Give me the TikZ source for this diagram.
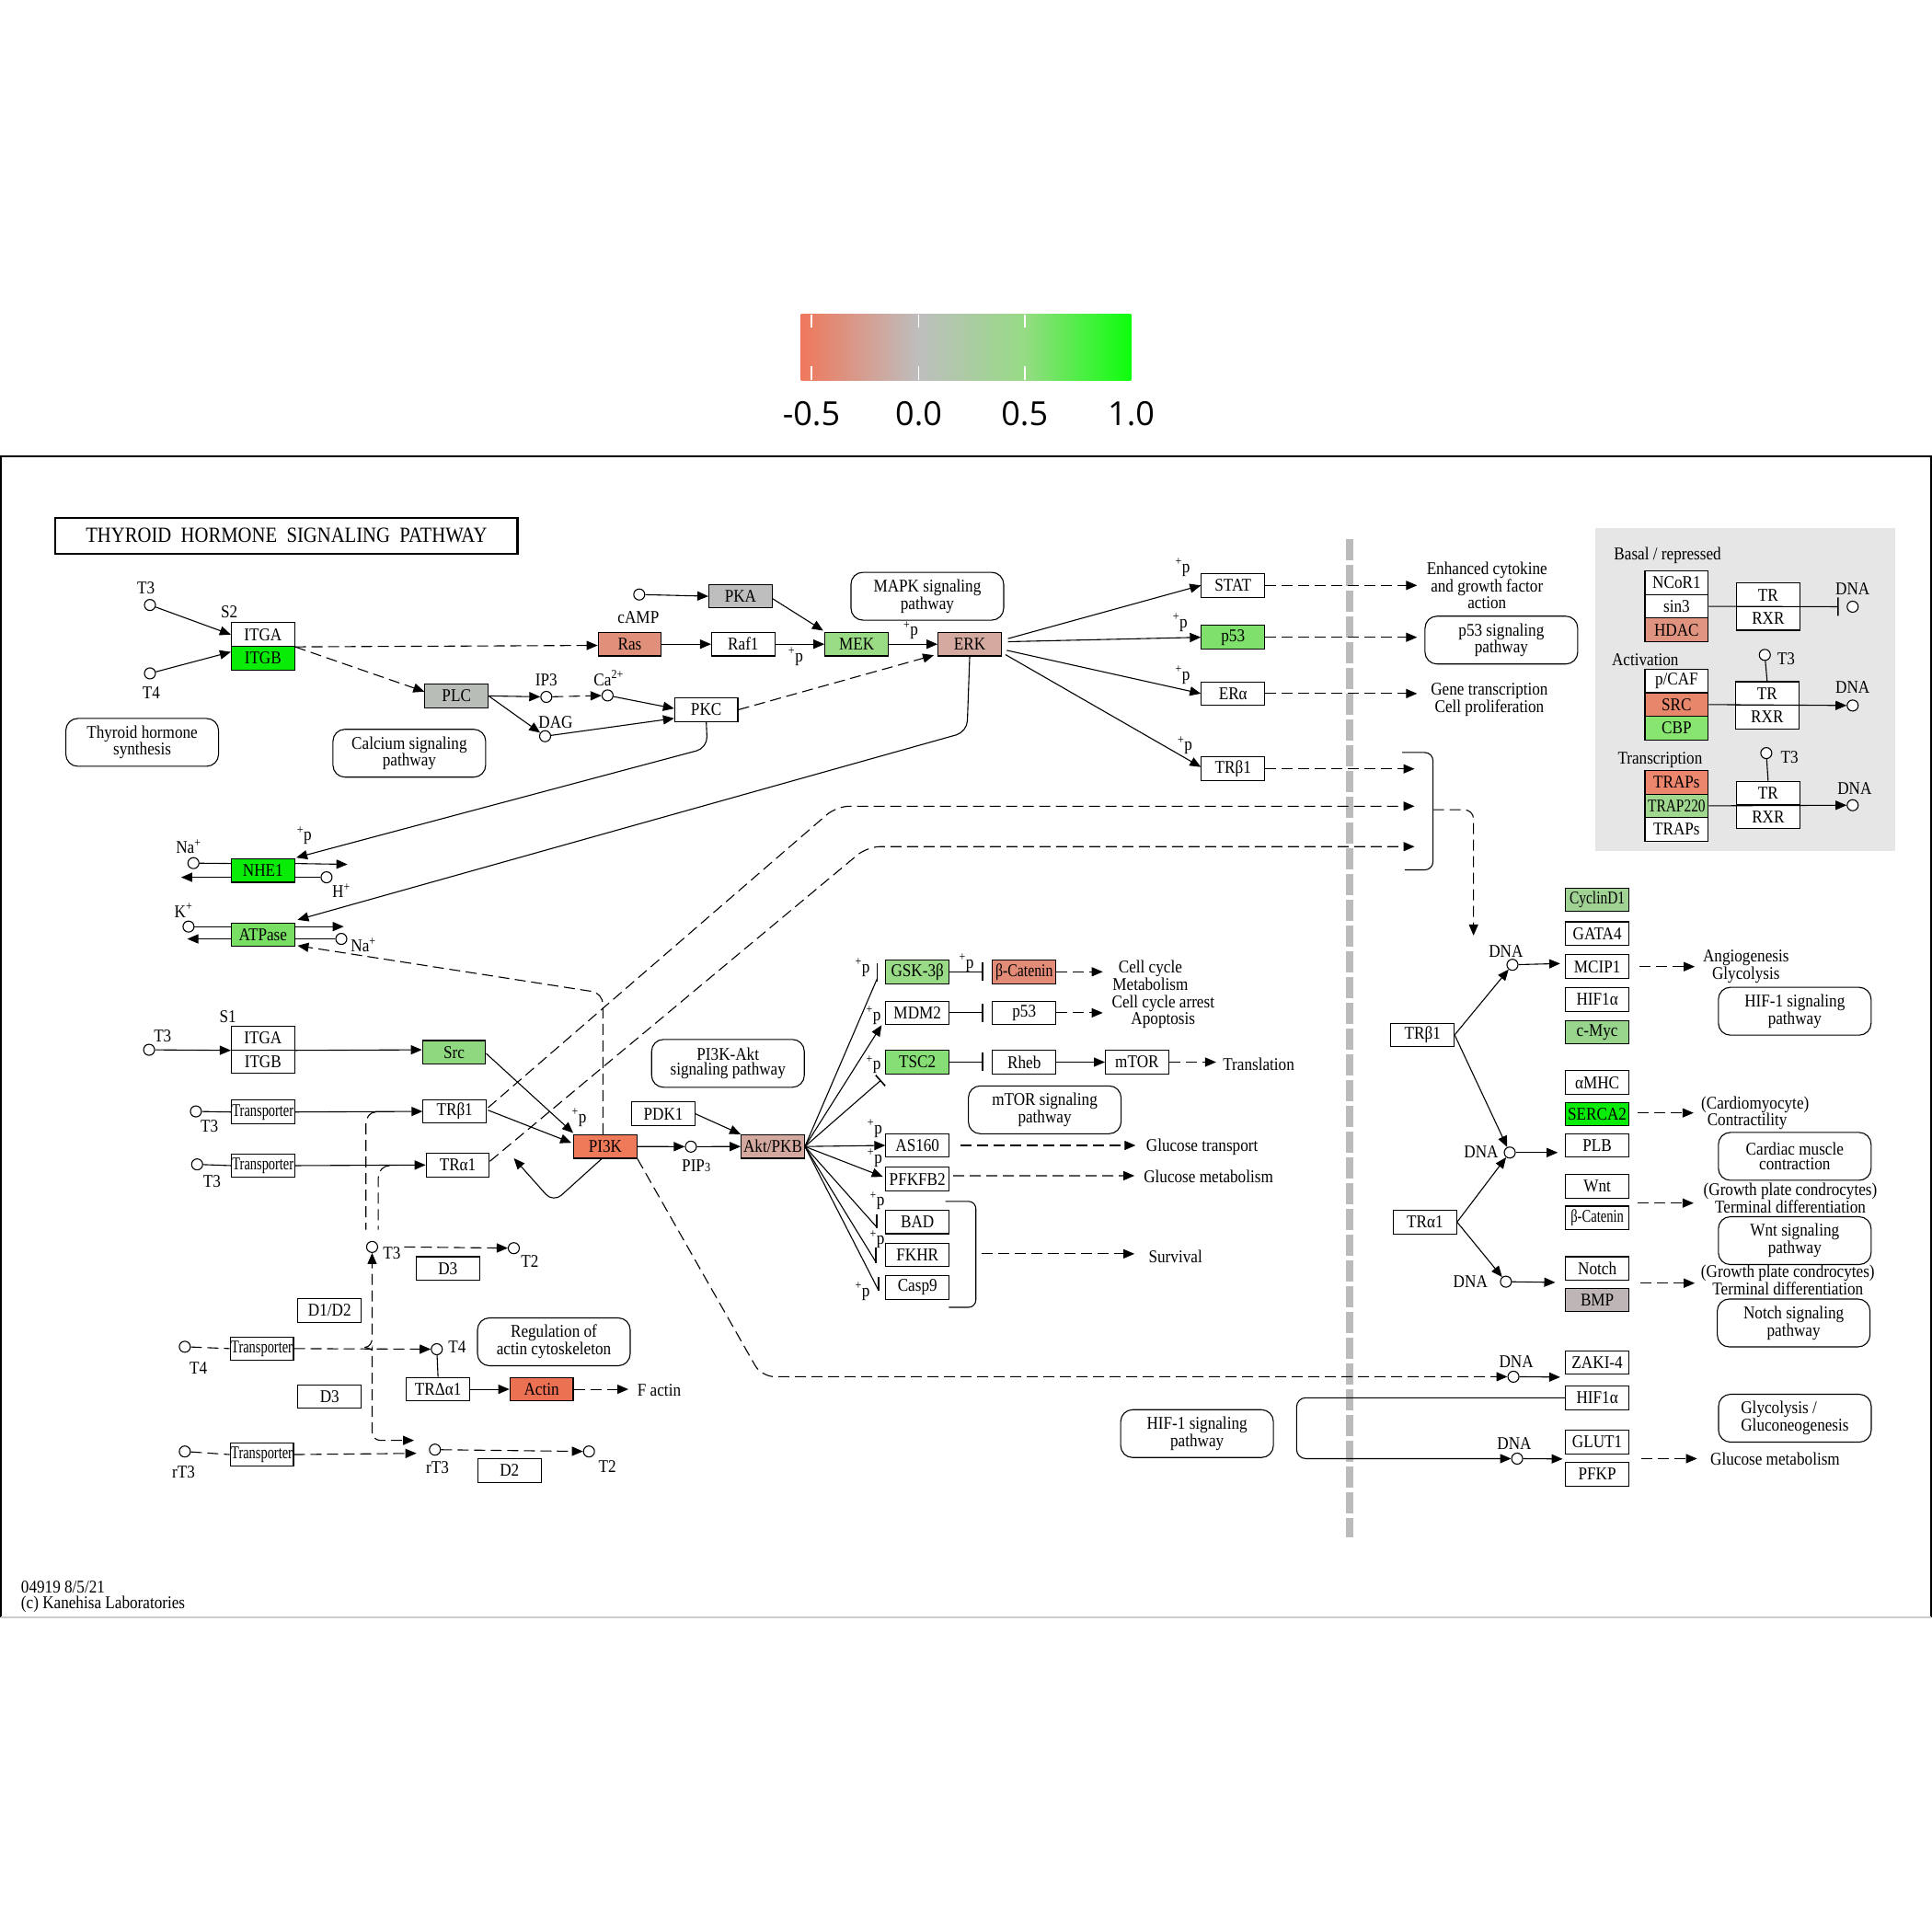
\documentclass[tikz,border=0pt]{standalone}
\usepackage{fontspec}
\usepackage{graphicx}
\setmainfont{Liberation Serif}[FakeStretch=0.88]
\newfontfamily\legfont{Open Sans}
\usetikzlibrary{arrows.meta,calc}
\newcommand\nf{\fontsize{19.5}{16.5}\selectfont}
\newcommand\pp{\textsuperscript{+}p}
\newcommand\sq[2]{\scalebox{#1}[1]{#2}}
\definecolor{cBG}{RGB}{230,230,230}
\definecolor{cVL}{RGB}{187,187,187}
\definecolor{cBright}{RGB}{8,236,8}
\definecolor{cMEK}{RGB}{154,219,134}
\definecolor{cP53}{RGB}{128,224,108}
\definecolor{cCBP}{RGB}{136,230,112}
\definecolor{cATP}{RGB}{120,222,100}
\definecolor{cSrc}{RGB}{144,216,128}
\definecolor{cGSK}{RGB}{152,218,134}
\definecolor{cTSC}{RGB}{136,222,118}
\definecolor{cTRAP}{RGB}{160,216,144}
\definecolor{cCyc}{RGB}{160,210,148}
\definecolor{cMyc}{RGB}{152,212,140}
\definecolor{cRas}{RGB}{224,144,122}
\definecolor{cHDAC}{RGB}{224,148,128}
\definecolor{cSRC}{RGB}{232,134,108}
\definecolor{cTRAPs}{RGB}{236,134,108}
\definecolor{cBcat}{RGB}{226,140,120}
\definecolor{cPI3K}{RGB}{238,122,90}
\definecolor{cActin}{RGB}{236,112,82}
\definecolor{cERK}{RGB}{212,169,160}
\definecolor{cAkt}{RGB}{210,168,159}
\definecolor{cPKA}{RGB}{190,190,190}
\definecolor{cPLC}{RGB}{184,189,184}
\definecolor{cBMP}{RGB}{190,182,182}
\definecolor{cL}{RGB}{239,120,92}
\definecolor{cZ}{RGB}{190,190,190}
\definecolor{cM}{RGB}{150,219,132}
\definecolor{cR}{RGB}{12,255,12}
\begin{document}
\begin{tikzpicture}[x=1.33929pt,y=-1.33929pt,
 gene/.style={draw,line width=1.1pt,fill=white,minimum width=68.7pt,minimum height=25.6pt,inner sep=0pt,font=\nf},
 cpd/.style={circle,draw,line width=1.1pt,fill=white,minimum size=12pt,inner sep=0pt},
 pw/.style={draw,rounded corners=13pt,line width=1.1pt,minimum width=166pt,minimum height=52pt,align=center,font=\nf,inner sep=0pt},
 lbl/.style={font=\nf,inner sep=0pt,align=center},
 ln/.style={line width=1.1pt},
 arr/.style={line width=1.1pt,-{Triangle[length=12pt,width=10pt]}},
 inh/.style={line width=1.1pt,-{Bar[width=20pt,line width=1.6pt]}},
 barl/.style={line width=1.6pt},
 dsh/.style={dash pattern=on 12pt off 6pt},
]
\useasboundingbox (0,0) rectangle (1568,1568);
% ---------- legend ----------
\shade[left color=cL,right color=cZ] (650,255.2) rectangle (745.6,308.7);
\shade[left color=cZ,right color=cM] (745.5,255.2) rectangle (832,308.7);
\shade[left color=cM,right color=cR] (831.9,255.2) rectangle (918,308.7);
\foreach \t in {658.5,745.6,832}{
  \draw[white,line width=1.6pt] (\t,255.2) -- (\t,265.5) (\t,297.5) -- (\t,308.7);}
\node[font={\legfont\fontsize{36}{40}\selectfont}] (lm5) at (658.5,336) {-0.5};
\node[font={\legfont\fontsize{36}{40}\selectfont}] (l00) at (745.6,336) {0.0};
\node[font={\legfont\fontsize{36}{40}\selectfont}] (l05) at (831.6,336) {0.5};
\node[font={\legfont\fontsize{36}{40}\selectfont}] (l10) at (918.1,336) {1.0};
% ---------- frame ----------
\draw[line width=1.5pt] (0.6,1312.6) -- (0.6,370.5) -- (1567.3,370.5) -- (1567.3,1312.6);
\draw[line width=1.5pt,black!20] (0.6,1312.6) -- (1567.3,1312.6);
\fill[cBG] (1295,428.7) rectangle (1538,690.9);
\draw[cVL,line width=8pt,dash pattern=on 23pt off 5pt] (1095.5,437.4) -- (1095.5,1247.3);
\node[draw,line width=2.2pt,minimum width=502.2pt,minimum height=39.1pt,inner sep=0pt,font=\fontsize{23.5}{25}\selectfont] (title) at (232.5,434.8) {THYROID\ \ HORMONE\ \ SIGNALING\ \ PATHWAY};
% ---------- top-left ----------
\node[cpd] (T3a) at (121.7,491) {};
\node[lbl] at (118.4,477.3) {T3};
\node[cpd] (T4a) at (121.7,546.5) {};
\node[lbl] at (122.7,562.2) {T4};
\node[lbl] at (186,496.7) {S2};
\node[gene] (ITGA2) at (213.4,515) {ITGA};
\node[gene,fill=cBright] (ITGB2) at (213.4,534.1) {ITGB};
\node[gene,fill=cRas] (Ras) at (511.1,522.8) {Ras};
\node[gene] (Raf1) at (603.2,522.8) {Raf1};
\node[gene,fill=cMEK] (MEK) at (695.2,522.8) {MEK};
\node[gene,fill=cERK] (ERK) at (787,522.8) {ERK};
\node[gene,fill=cPKA] (PKA) at (601,483.9) {PKA};
\node[gene,fill=cPLC] (PLC) at (370.5,564.8) {PLC};
\node[gene] (PKC) at (573.2,576) {PKC};
\node[cpd] (cAMP) at (518.8,482.5) {};
\node[lbl] at (518.1,501.2) {cAMP};
\node[cpd] (IP3) at (443.4,565.6) {};
\node[lbl] at (443.4,552.2) {IP3};
\node[cpd] (Ca) at (493.1,564.4) {};
\node[lbl] at (494,550.5) {Ca\textsuperscript{2+}};
\node[cpd] (DAG) at (442.4,597.5) {};
\node[lbl] at (451,586.5) {DAG};
\node[pw] (pwMAPK) at (752.6,483.9) {MAPK signaling\\pathway};
\node[pw] (pwTHS) at (115.4,602.5) {Thyroid hormone\\synthesis};
\node[pw] (pwCa) at (332.2,611.3) {Calcium signaling\\pathway};
\draw[arr] (T3a) -- (ITGA2.west);
\draw[arr] (T4a) -- ($(ITGB2.west)+(0,-5)$);
\draw[arr,dsh] (ITGA2.south east) -- ($(Ras.west)+(0,1)$);
\draw[arr,dsh] (ITGA2.south east) -- ($(PLC.west)+(0,-3.5)$);
\draw[arr] (PLC.east) -- (IP3);
\draw[arr,dsh] (IP3) -- (Ca);
\draw[arr] (PLC.east) -- (DAG);
\draw[arr] (Ca) -- ($(PKC.west)+(0,-1)$);
\draw[arr] (DAG) -- ($(PKC.west)+(0,7)$);
\draw[arr] (cAMP) -- (PKA.west);
\draw[arr] ($(PKA.east)+(0,2)$) -- ($(MEK.north west)+(-1,-1)$);
\draw[arr] (Ras.east) -- (Raf1.west);
\draw[arr] (Raf1.east) -- (MEK.west);
\draw[arr] (MEK.east) -- (ERK.west);
\node[lbl] at (645.8,532.8) {\pp};
\node[lbl] at (739.2,511.6) {\pp};
\draw[arr,dsh] (PKC.east) -- ($(ERK.south west)+(-3,-1)$);
% ---------- ERK targets ----------
\node[gene] (STAT) at (1000.7,475.1) {STAT};
\node[gene,fill=cP53] (p53a) at (1000.7,517.2) {p53};
\node[gene] (ERa) at (1000.7,562.9) {ERα};
\node[gene] (TRb1a) at (1000.7,624) {TRβ1};
\draw[arr] ($(ERK.east)+(5,-4.5)$) -- (STAT.west);
\draw[arr] ($(ERK.east)+(5,-2)$) -- (p53a.west);
\draw[arr] ($(ERK.east)+(4,5)$) -- (ERa.west);
\draw[arr] ($(ERK.east)+(3,8.5)$) -- ($(TRb1a.west)+(0,-1.5)$);
\node[lbl] at (959.8,460.5) {\pp};
\node[lbl] at (957.8,505.4) {\pp};
\node[lbl] at (959.8,547.7) {\pp};
\node[lbl] at (961.8,605) {\pp};
\node[lbl] (tEnh) at (1206.8,475.2) {Enhanced cytokine\\and growth factor\\action};
\node[pw] (pwp53) at (1218.5,519.5) {p53 signaling\\pathway};
\node[lbl] (tGene) at (1208.8,568) {Gene transcription\\Cell proliferation};
\coordinate (eSTAT) at (1150.1,475.1);
\coordinate (ep53) at (1150.1,517.2);
\coordinate (eERa) at (1150.1,562.9);
\coordinate (eTRb) at (1148,624);
\draw[arr,dsh] (STAT.east) -- (eSTAT);
\draw[arr,dsh] (p53a.east) -- (ep53);
\draw[arr,dsh] (ERa.east) -- (eERa);
\draw[arr,dsh] (TRb1a.east) -- (eTRb);
% bracket
\draw[ln,rounded corners=9pt] (1138,610.7) -- (1163,610.7) -- (1163,706) -- (1140,706);
\coordinate (brk) at (1163,657.2);
\coordinate (eBrk) at (1195.9,759.3);
\draw[arr,dsh,rounded corners=10pt] (brk) -- (1195.9,657.2) -- (eBrk);
% ---------- grey box ----------
\node[lbl] at (1353.4,450.6) {Basal / repressed};
\node[lbl] at (1335.2,535.7) {Activation};
\node[lbl] at (1347.3,616.7) {Transcription};
\node[gene] (NCoR1) at (1360.7,473) {NCoR1};
\node[gene] (sin3) at (1360.7,492.1) {sin3};
\node[gene,fill=cHDAC] (HDAC) at (1360.7,511.2) {HDAC};
\node[gene] (TR1) at (1435,482.8) {TR};
\node[gene] (RXR1) at (1435,501.9) {RXR};
\node[gene] (pCAF) at (1360.7,552.7) {p/CAF};
\node[gene,fill=cSRC] (SRC) at (1360.7,571.8) {SRC};
\node[gene,fill=cCBP] (CBP) at (1360.7,590.9) {CBP};
\node[gene] (TR2) at (1434.2,562.8) {TR};
\node[gene] (RXR2) at (1434.2,581.9) {RXR};
\node[gene,fill=cTRAPs] (TRAPs1) at (1360.7,634.9) {TRAPs};
\node[gene,fill=cTRAP] (TRAP220) at (1360.7,654) {\sq{0.9}{TRAP220}};
\node[gene] (TRAPs2) at (1360.7,673.1) {TRAPs};
\node[gene] (TR3) at (1435,643.7) {TR};
\node[gene] (RXR3) at (1435,662.8) {RXR};
\node[cpd] (DNAb) at (1503.6,492.4) {};
\node[cpd] (DNAa) at (1503.6,572.6) {};
\node[cpd] (DNAt) at (1503.6,653.5) {};
\node[cpd] (T3g1) at (1432.3,531.5) {};
\node[cpd] (T3g2) at (1433.5,611.2) {};
\node[lbl] at (1503.6,478) {DNA};
\node[lbl] at (1503.6,557.6) {DNA};
\node[lbl] at (1505.2,639.8) {DNA};
\node[lbl] at (1449.5,534.7) {T3};
\node[lbl] at (1452.3,614.9) {T3};
\draw[inh] (sin3.east) -- ($(DNAb)+(-11.3,0)$);
\draw[ln] (T3g1) -- (TR2.north);
\draw[arr] (SRC.east) -- (DNAa);
\draw[ln] (T3g2) -- (TR3.north);
\draw[arr] (TRAP220.east) -- (DNAt);
% ---------- NHE1 / ATPase ----------
\node[gene,fill=cBright] (NHE1) at (213.4,706.5) {NHE1};
\node[gene,fill=cATP] (ATPase) at (213.4,758.5) {ATPase};
\node[cpd] (NaIn) at (157,700.5) {};
\node[lbl] at (153,687) {Na\textsuperscript{+}};
\node[cpd] (Hout) at (265,712) {};
\node[lbl] at (277,723) {H\textsuperscript{+}};
\node[cpd] (KIn) at (153,752) {};
\node[lbl] at (149,739) {K\textsuperscript{+}};
\node[cpd] (NaOut) at (277,762) {};
\node[lbl] at (295,767) {Na\textsuperscript{+}};
\node[lbl] at (247,678) {\pp};
\coordinate (eN1) at (282,701.5);
\coordinate (eN2) at (147,712);
\coordinate (eA1) at (279,752);
\coordinate (eA2) at (152,762);
\draw[ln] (NaIn) -- ($(NHE1.west)+(0,-5.7)$);
\draw[arr] ($(NHE1.east)+(0,-5.7)$) -- (eN1);
\draw[ln] (Hout) -- ($(NHE1.east)+(0,5.5)$);
\draw[arr] ($(NHE1.west)+(0,5.5)$) -- (eN2);
\draw[ln] (KIn) -- ($(ATPase.west)+(0,-6.5)$);
\draw[arr] ($(ATPase.east)+(0,-6.5)$) -- (eA1);
\draw[ln] (NaOut) -- ($(ATPase.east)+(0,3.5)$);
\draw[arr] ($(ATPase.west)+(0,3.5)$) -- (eA2);
\draw[arr,rounded corners=12pt] (PKC.south) -- (574.1,607) -- ($(NHE1.north east)+(1,-0.5)$);
\draw[arr,rounded corners=12pt] (ERK.south) -- (784.8,594) -- ($(ATPase.north east)+(2,-2)$);
% ---------- left middle ----------
\node[lbl] at (185,825) {S1};
\node[cpd] (T3b) at (121,852) {};
\node[lbl] at (132,841) {T3};
\node[gene] (ITGA1) at (213.4,842.5) {ITGA};
\node[gene] (ITGB1) at (213.4,861.6) {ITGB};
\node[gene,fill=cSrc] (Src) at (368.5,854) {Src};
\node[cpd] (T3c) at (159,902) {};
\node[lbl] at (170,914) {T3};
\node[gene] (Tr1) at (213.4,902.5) {\sq{0.84}{Transporter}};
\node[gene] (TRb1L) at (369,902) {TRβ1};
\node[cpd] (T3d) at (160,945) {};
\node[lbl] at (172,959) {T3};
\node[gene] (Tr2) at (213.4,946) {\sq{0.84}{Transporter}};
\node[gene] (TRa1L) at (371.5,945.5) {TRα1};
\node[gene,fill=cPI3K] (PI3K) at (491.3,930.5) {PI3K};
\node[lbl] at (470,907) {\pp};
\draw[arr] (T3b) -- (ITGA1.south west);
\draw[arr] (ITGA1.south east) -- ($(Src.west)+(0,-2)$);
\draw[arr] ($(Src.east)+(0,1)$) -- ($(PI3K.north west)+(0,-1)$);
\draw[ln] (T3c) -- (Tr1.west);
\draw[arr] (Tr1.east) -- (TRb1L.west);
\draw[arr] ($(TRb1L.east)+(1,-1)$) -- ($(PI3K.west)+(-1.5,-3)$);
\draw[ln] (T3d) -- (Tr2.west);
\draw[arr] (Tr2.east) -- (TRa1L.west);
\draw[arr,dsh,rounded corners=12pt] ($(PI3K.north)+(-2,0)$) -- (489.3,806) -- ($(ATPase.south east)+(2,-1)$);
\draw[arr,dsh,rounded corners=14pt] ($(TRb1L.east)+(1,-3)$) -- (679,654.3) -- (1148,654.3);
\draw[arr,dsh,rounded corners=14pt] ($(TRa1L.east)+(0,-3)$) -- (704,687.1) -- (1148,687.1);
\coordinate (eLoop) at (417,940);
\draw[arr,rounded corners=12pt] ($(PI3K.south)+(-3,0)$) -- (449,976) -- (eLoop);
% ---------- PI3K-Akt ----------
\node[gene] (PDK1) at (538.4,904) {PDK1};
\node[cpd] (PIP3) at (560.7,930.6) {};
\node[lbl] at (565,946) {PIP{\fontsize{14}{14}\selectfont 3}};
\node[gene,fill=cAkt] (Akt) at (627.2,930.5) {Akt/PKB};
\node[pw] (pwPI3K) at (590.8,863) {PI3K-Akt\\signaling pathway};
\node[pw] (pwmTOR) at (847.9,900.7) {mTOR signaling\\pathway};
\draw[arr] (PI3K.east) -- (PIP3);
\draw[arr] (PIP3) -- (Akt.west);
\draw[arr] (PDK1.east) -- (Akt.north west);
\node[gene,fill=cGSK] (GSK) at (744.6,788.7) {GSK-3β};
\node[gene,fill=cBcat] (bCat) at (831.2,788.7) {\sq{0.92}{β-Catenin}};
\node[gene] (MDM2) at (744.6,822) {MDM2};
\node[gene] (p53b) at (831.2,822) {p53};
\node[gene,fill=cTSC] (TSC2) at (744.6,862) {TSC2};
\node[gene] (Rheb) at (831.2,862) {Rheb};
\node[gene] (mTOR) at (922.8,862) {mTOR};
\node[gene] (AS160) at (744.6,929.6) {AS160};
\node[gene] (PFKFB2) at (744.6,957) {PFKFB2};
\node[gene] (BAD) at (744.6,991.7) {BAD};
\node[gene] (FKHR) at (744.6,1018.4) {FKHR};
\node[gene] (Casp9) at (744.6,1044.8) {Casp9};
\draw[ln] (Akt.east) -- (712,794);
\draw[barl] (712,782) -- (712,797);
\draw[arr] (Akt.east) -- ($(MDM2.south west)+(-3,0)$);
\draw[ln] (Akt.east) -- (714.6,877);
\draw[barl] (710.7,872.6) -- (718.4,881.3);
\draw[arr] (Akt.east) -- (AS160.west);
\draw[arr] (Akt.east) -- ($(PFKFB2.west)+(-2,-2)$);
\draw[ln] (Akt.east) -- (711.6,996);
\draw[barl] (711.6,985.3) -- (711.6,997);
\draw[ln] (Akt.east) -- (710.7,1024);
\draw[barl] (710.7,1012.7) -- (710.7,1025);
\draw[ln] (Akt.east) -- (712.9,1047);
\draw[barl] (712.9,1036) -- (712.9,1047.6);
\node[lbl] at (700,785.4) {\pp};
\node[lbl] at (709,824) {\pp};
\node[lbl] at (709,864) {\pp};
\node[lbl] at (710,916) {\pp};
\node[lbl] at (710,940) {\pp};
\node[lbl] at (712,974.6) {\pp};
\node[lbl] at (712,1005.8) {\pp};
\node[lbl] at (700,1048) {\pp};
\node[lbl] at (784.4,781.6) {\pp};
\draw[inh] (GSK.east) -- ($(bCat.west)+(-7,0)$);
\draw[inh] (MDM2.east) -- ($(p53b.west)+(-7,0)$);
\draw[inh] (TSC2.east) -- ($(Rheb.west)+(-7,0)$);
\draw[arr] (Rheb.east) -- (mTOR.west);
\node[lbl] (tCC) at (933.6,791.6) {Cell cycle\\Metabolism};
\node[lbl] (tCCA) at (944,821.5) {Cell cycle arrest\\Apoptosis};
\node[lbl] (tTrans) at (1021.5,864) {Translation};
\node[lbl] (tGT) at (975.6,931) {Glucose transport};
\node[lbl] (tGM) at (980.8,954.7) {Glucose metabolism};
\node[lbl] (tSurv) at (954,1020) {Survival};
\coordinate (eBcat) at (895,788.7);
\coordinate (ep53b) at (895,822);
\coordinate (emTOR) at (987,862);
\coordinate (eAS) at (921.6,929.6);
\coordinate (ePF) at (920.7,954.2);
\coordinate (bSurv) at (796.4,1017.6);
\coordinate (eSurv) at (920.7,1017.6);
\draw[arr,dsh] (bCat.east) -- (eBcat);
\draw[arr,dsh] (p53b.east) -- (ep53b);
\draw[arr,dsh] (mTOR.east) -- (emTOR);
\draw[arr,dsh] ($(AS160.east)+(9,0)$) -- (eAS);
\draw[arr,dsh] ($(PFKFB2.east)+(3,-2.8)$) -- (ePF);
\draw[ln,rounded corners=8pt] (767.3,975) -- (792,975) -- (792,1061) -- (770,1061);
\draw[arr,dsh] (bSurv) -- (eSurv);
% ---------- bottom-left ----------
\node[cpd] (T3e) at (302,1012) {};
\node[lbl] at (318,1017) {T3};
\node[cpd] (T2a) at (417,1013) {};
\node[lbl] at (430,1024) {T2};
\node[gene] (D3a) at (363.5,1029.5) {D3};
\node[gene] (D1D2) at (267.5,1063.5) {D1/D2};
\node[gene] (D3b) at (267.5,1133.5) {D3};
\node[cpd] (T4b) at (150,1093) {};
\node[lbl] at (161,1110) {T4};
\node[gene] (Tr3) at (212.5,1094.5) {\sq{0.84}{Transporter}};
\node[cpd] (T4c) at (354.5,1095) {};
\node[lbl] at (371,1093) {T4};
\node[gene] (TRDa1) at (355.5,1127.5) {TRΔα1};
\node[gene,fill=cActin] (Actin) at (439.5,1127.5) {Actin};
\node[lbl] (tFact) at (535,1128) {F actin};
\node[pw] (pwReg) at (449.5,1089) {Regulation of\\actin cytoskeleton};
\node[cpd] (rT3a) at (150,1178) {};
\node[lbl] at (149,1195) {rT3};
\node[gene] (Tr4) at (212.5,1180.5) {\sq{0.84}{Transporter}};
\node[cpd] (rT3b) at (353,1176.5) {};
\node[lbl] at (355,1191) {rT3};
\node[cpd] (T2b) at (478,1178) {};
\node[lbl] at (493,1190) {T2};
\node[gene] (D2) at (413.5,1193.5) {D2};
\coordinate (br1) at (305,902.5);
\coordinate (br2) at (316,946);
\draw[ln,dsh] (br1) to[out=180,in=90] (297,912) -- (297,998);
\draw[ln,dsh] (br2) to[out=180,in=90] (307,956) -- (307,998);
\draw[arr,dsh] ($(T3e)+(26,0)$) -- (T2a);
\draw[ln,dsh] (T4b) -- (Tr3.west);
\draw[arr,dsh] (Tr3.east) -- (T4c);
\draw[ln] (T4c) -- (TRDa1.north);
\draw[arr] (TRDa1.east) -- (Actin.west);
\coordinate (eAct) at (510,1127.5);
\draw[arr,dsh] (Actin.east) -- (eAct);
\coordinate (jT4) at (296,1093.5);
\draw[arr,dsh] (jT4) to[out=0,in=-90] (302,1086) -- (T3e);
\coordinate (erT) at (336,1169);
\draw[arr,dsh,rounded corners=9pt] (jT4) to[out=0,in=90] (302,1101) -- (302,1169) -- (erT);
\draw[ln,dsh] (rT3a) -- (Tr4.west);
\draw[arr,dsh] (Tr4.east) -- ($(rT3b)+(-15,3)$);
\draw[arr,dsh] (rT3b) -- (T2b);
% ---------- PI3K -> DNA ----------
\node[gene] (ZAKI4) at (1296.3,1105.7) {ZAKI-4};
\node[gene] (HIF1a2) at (1296.3,1134.4) {HIF1α};
\node[gene] (GLUT1) at (1296.3,1170.3) {GLUT1};
\node[gene] (PFKP) at (1296.3,1196.6) {PFKP};
\node[cpd] (DNA4) at (1228.3,1117.3) {};
\node[lbl] at (1230.6,1104.9) {DNA};
\node[cpd] (DNA5) at (1231.3,1183.8) {};
\node[lbl] at (1229,1171.4) {DNA};
\draw[arr,dsh,rounded corners=14pt] (PI3K.south east) -- (618,1117.3) -- (DNA4);
\draw[arr] (DNA4) -- ($(ZAKI4.south west)+(-4,2)$);
\draw[arr,rounded corners=10pt] (HIF1a2.west) -- (1052.3,1134.4) -- (1052.3,1183.8) -- (DNA5);
\draw[arr] (DNA5) -- ($(GLUT1.south west)+(-2,3.8)$);
\node[lbl] (tGM2) at (1440.7,1183.8) {Glucose metabolism};
\coordinate (bGM2) at (1332.3,1183.8);
\coordinate (eGM2) at (1377.3,1183.8);
\draw[arr,dsh] (bGM2) -- (eGM2);
\node[pw] (pwHIFb) at (971.5,1163.5) {HIF-1 signaling\\pathway};
% ---------- right column ----------
\node[gene,fill=cCyc] (Cyc) at (1296.3,730.3) {\sq{0.9}{CyclinD1}};
\node[gene] (GATA4) at (1296.3,757.7) {GATA4};
\node[gene] (MCIP1) at (1296.3,784.5) {MCIP1};
\node[gene] (HIF1a) at (1296.3,811.2) {HIF1α};
\node[gene,fill=cMyc] (cMyc) at (1296.3,837.8) {c-Myc};
\node[gene] (aMHC) at (1296.3,878.6) {αMHC};
\node[gene,fill=cBright] (SERCA2) at (1296.3,904.1) {SERCA2};
\node[gene] (PLB) at (1296.3,929.6) {PLB};
\node[gene] (Wnt) at (1296.3,962.9) {Wnt};
\node[gene] (bCat2) at (1296.3,988.4) {\sq{0.85}{β-Catenin}};
\node[gene] (Notch) at (1296.3,1029.5) {Notch};
\node[gene,fill=cBMP] (BMP) at (1296.3,1055) {BMP};
\node[gene] (TRb1R) at (1154.5,839.9) {TRβ1};
\node[gene] (TRa1R) at (1156.5,991.8) {TRα1};
\node[cpd] (DNA1) at (1227.5,783) {};
\node[lbl] at (1222.2,771.8) {DNA};
\node[cpd] (DNA2) at (1225.3,935.4) {};
\node[lbl] at (1202.1,934.9) {DNA};
\node[cpd] (DNA3) at (1222.2,1040.2) {};
\node[lbl] at (1193.4,1040.2) {DNA};
\draw[arr] (TRb1R.east) -- (DNA1);
\draw[arr] (DNA1) -- ($(MCIP1.west)+(-4,-2.5)$);
\draw[arr] (TRb1R.east) -- (DNA2);
\draw[arr] (TRa1R.east) -- (DNA2);
\draw[arr] (TRa1R.east) -- (DNA3);
\draw[arr] (DNA2) -- ($(PLB.west)+(-6,5.8)$);
\draw[arr] (DNA3) -- ($(Notch.south west)+(-8,1.3)$);
\node[lbl] (tAng) at (1417,784.5) {Angiogenesis\\Glycolysis};
\node[pw] (pwHIFa) at (1456.6,820.7) {HIF-1 signaling\\pathway};
\node[lbl,anchor=west] (tCar1) at (1380.5,896.3) {(Cardiomyocyte)};
\node[lbl,anchor=west] (tCar2) at (1385.5,910) {Contractility};
\node[pw] (pwCMC) at (1456.6,938.5) {Cardiac muscle\\contraction};
\node[lbl] (tGP1) at (1453,972.2) {(Growth plate condrocytes)\\Terminal differentiation};
\node[pw] (pwWnt) at (1456.6,1006.9) {Wnt signaling\\pathway};
\node[lbl] (tGP2) at (1451,1038.5) {(Growth plate condrocytes)\\Terminal differentiation};
\node[pw] (pwNotch) at (1455.7,1073.7) {Notch signaling\\pathway};
\node[pw,align=left] (pwGly) at (1456.7,1151) {Glycolysis /\\Gluconeogenesis};
\coordinate (bAng) at (1330.6,784.5);
\coordinate (eAng) at (1375.5,784.5);
\coordinate (bCar) at (1329,903.2);
\coordinate (eCar) at (1374.5,903.2);
\coordinate (bGP1) at (1329,976.4);
\coordinate (eGP1) at (1374.5,976.4);
\coordinate (bGP2) at (1331.5,1041.4);
\coordinate (eGP2) at (1375.5,1041.4);
\draw[arr,dsh] (bAng) -- (eAng);
\draw[arr,dsh] (bCar) -- (eCar);
\draw[arr,dsh] (bGP1) -- (eGP1);
\draw[arr,dsh] (bGP2) -- (eGP2);
% ---------- footer ----------
\node[lbl,anchor=west,align=left] (foot) at (17,1296) {04919 8/5/21\\(c) Kanehisa Laboratories};
\end{tikzpicture}
\end{document}
